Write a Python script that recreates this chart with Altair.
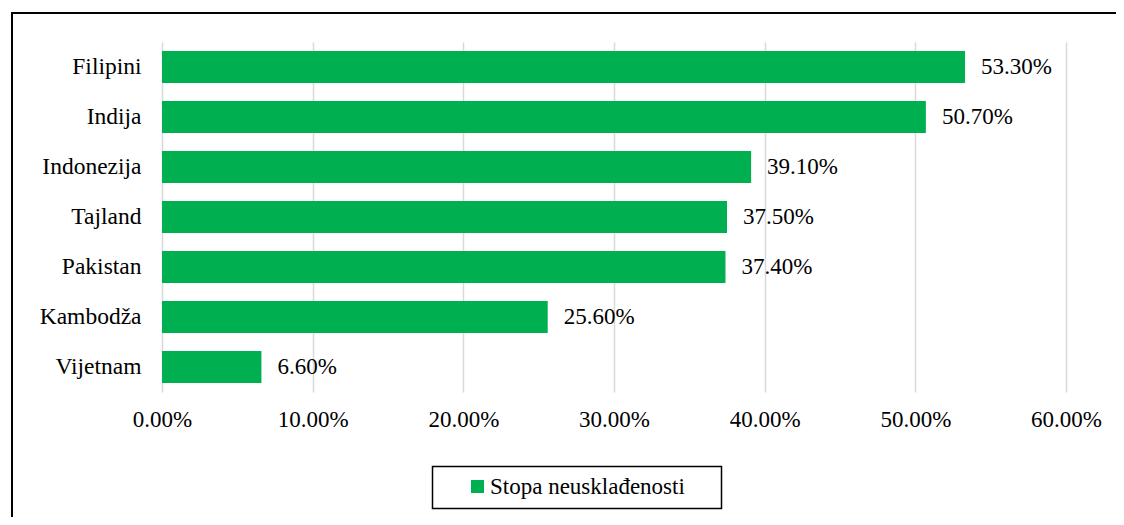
import altair as alt
import pandas as pd

countries = ["Filipini", "Indija", "Indonezija", "Tajland", "Pakistan", "Kambodža", "Vijetnam"]
values = [0.533, 0.507, 0.391, 0.375, 0.374, 0.256, 0.066]
series_name = "Stopa neusklađenosti"
x_ticks = [0.0, 0.1, 0.2, 0.3, 0.4, 0.5, 0.6]

df = pd.DataFrame({"country": countries, "value": values, "series": [series_name] * len(countries)})
FONT = "Liberation Serif, Times New Roman, DejaVu Serif, serif"
GREEN = "#00B050"

base = alt.Chart(df)

bars = base.mark_bar(color=GREEN).encode(
    y=alt.Y("country:N", sort=countries, title=None,
            scale=alt.Scale(paddingInner=0.36, paddingOuter=0.18),
            axis=alt.Axis(ticks=False, domain=False, labelPadding=21, labelFontSize=23.5,
                          labelColor="black", labelFont=FONT)),
    x=alt.X("value:Q", title=None,
            scale=alt.Scale(domain=[0, 0.6], nice=False),
            axis=alt.Axis(values=x_ticks, format=".2%", ticks=False, domain=False,
                          labelPadding=16, labelFontSize=23, labelColor="black",
                          labelFlush=False, labelOverlap=False,
                          labelFont=FONT, grid=True, gridColor="#D9D9D9", gridWidth=1.5)),
    color=alt.Color("series:N", title=None,
                    scale=alt.Scale(range=[GREEN]),
                    legend=alt.Legend(orient="none", legendX=304, legendY=433, padding=0,
                                      symbolType="square", symbolSize=169, symbolStrokeWidth=0,
                                      labelFontSize=23, labelFont=FONT, labelColor="black",
                                      labelOffset=1, labelLimit=400)),
)

labels = base.mark_text(align="left", baseline="middle", dx=16, fontSize=23,
                        font=FONT, color="black").encode(
    y=alt.Y("country:N", sort=countries),
    x=alt.X("value:Q"),
    text=alt.Text("value:Q", format=".2%"),
)

deco = pd.DataFrame({"k": [0]})
outer_border = alt.Chart(deco).mark_rect(fillOpacity=0, stroke="black", strokeWidth=2).encode(
    x=alt.value(-150), x2=alt.value(2000), y=alt.value(-29), y2=alt.value(1000)
)
legend_box = alt.Chart(deco).mark_rect(fillOpacity=0, stroke="black", strokeWidth=1.5).encode(
    x=alt.value(270.5), x2=alt.value(559.5), y=alt.value(424.5), y2=alt.value(466.5)
)

chart = alt.layer(outer_border, bars, labels, legend_box).properties(
    width=904, height=350,
    autosize=alt.AutoSizeParams(type="none"),
    padding={"left": 154, "top": 34, "right": 50, "bottom": 125},
    background="white",
).configure(font=FONT).configure_view(stroke=None)

chart.save("out.html", embed_options={"renderer": "svg", "actions": False})
